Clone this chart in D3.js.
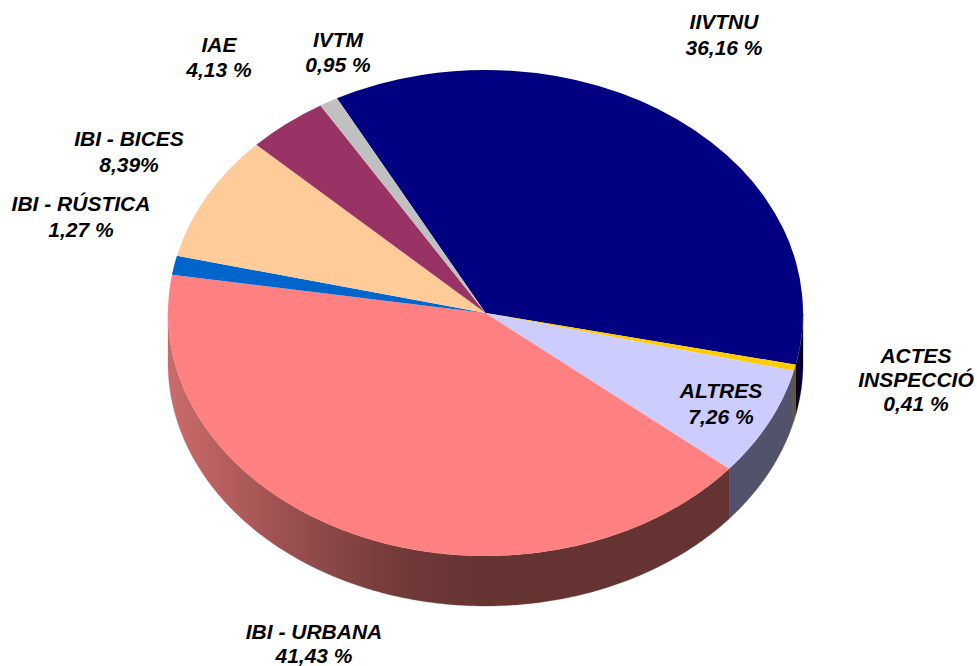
<!DOCTYPE html>
<html><head><meta charset="utf-8">
<script src="https://cdnjs.cloudflare.com/ajax/libs/d3/7.8.5/d3.min.js"></script>
<style>html,body{margin:0;padding:0;background:#fff;overflow:hidden}svg{display:block}</style>
</head><body><svg id="c" width="977" height="666"></svg>
<script>
const categories = ["IIVTNU","ACTES INSPECCIÓ","ALTRES","IBI - URBANA","IBI - RÚSTICA","IBI - BICES","IAE","IVTM"];
const values = [36.16,0.41,7.26,41.43,1.27,8.39,4.13,0.95];
const valueLabels = ["36,16 %","0,41 %","7,26 %","41,43 %","1,27 %","8,39%","4,13 %","0,95 %"];
const colors = ["#000080","#FFCC00","#CCCCFF","#FF8080","#0066CC","#FFCC99","#993366","#C0C0C0"];
const wallColors = ["#000033","#665200","#52526B","url(#wallGrad)","#002952","#665240","#3D1429","#4D4D4D"];

// layout
const cx=485.5, cy=313, rx=317.5, ry=243, depth=50;
const start=-27.9*Math.PI/180;
const labelCenters=[[724,22],[916,356],[721,391],[314,632],[81,204],[129,139],[219,45],[338,40]];
const lineGap=[26,24,26,24,26,26,25,25];

const svg=d3.select("#c");
const defs=svg.append("defs");
const grad=defs.append("linearGradient").attr("id","wallGrad").attr("gradientUnits","userSpaceOnUse")
  .attr("x1",168).attr("x2",480).attr("y1",0).attr("y2",0);
[[0,"#CC6B6B"],[0.25,"#AD5959"],[0.5,"#8C4848"],[0.75,"#723939"],[1,"#663333"]]
  .forEach(s=>grad.append("stop").attr("offset",s[0]).attr("stop-color",s[1]));

const pie=d3.pie().sort(null).startAngle(start).endAngle(start+2*Math.PI);
const arcs=pie(values);
const X=d3.scaleLinear().domain([-1,1]).range([cx-rx,cx+rx]);
const Y=d3.scaleLinear().domain([-1,1]).range([cy-ry,cy+ry]);

// side walls: only the front half of the rim is visible
const wall=d3.area().x(a=>X(Math.sin(a))).y0(a=>Y(-Math.cos(a))).y1(a=>Y(-Math.cos(a))+depth);
const gWall=svg.append("g");
arcs.forEach((d,i)=>{
  [0,2*Math.PI].forEach(shift=>{
    const a0=Math.max(d.startAngle+shift,Math.PI/2), a1=Math.min(d.endAngle+shift,3*Math.PI/2);
    if(a1<=a0) return;
    const n=Math.max(2,Math.ceil((a1-a0)/0.01));
    const pts=d3.range(n+1).map(k=>a0+(a1-a0)*k/n);
    gWall.append("path").attr("d",wall(pts)).attr("fill",wallColors[i]).attr("stroke",wallColors[i]).attr("stroke-width",0.3);
  });
});

// top face
const arc=d3.arc().innerRadius(0).outerRadius(rx);
svg.append("g").attr("transform",`translate(${cx},${cy}) scale(1,${ry/rx})`)
  .selectAll("path").data(arcs).join("path")
  .attr("d",arc).attr("fill",(d,i)=>colors[i]);

// labels
const gText=svg.append("g").attr("font-family","'Liberation Sans',Arial,sans-serif")
  .attr("font-weight","bold").attr("font-style","italic").attr("font-size",21)
  .attr("text-anchor","middle").attr("fill","#000");
categories.forEach((c,i)=>{
  const [lx,ly]=labelCenters[i];
  const lines=c==="ACTES INSPECCIÓ"?["ACTES","INSPECCIÓ",valueLabels[i]]:[c,valueLabels[i]];
  lines.forEach((t,k)=>gText.append("text").attr("x",lx).attr("y",ly+k*lineGap[i]).attr("dy","0.35em").text(t));
});
</script></body></html>
